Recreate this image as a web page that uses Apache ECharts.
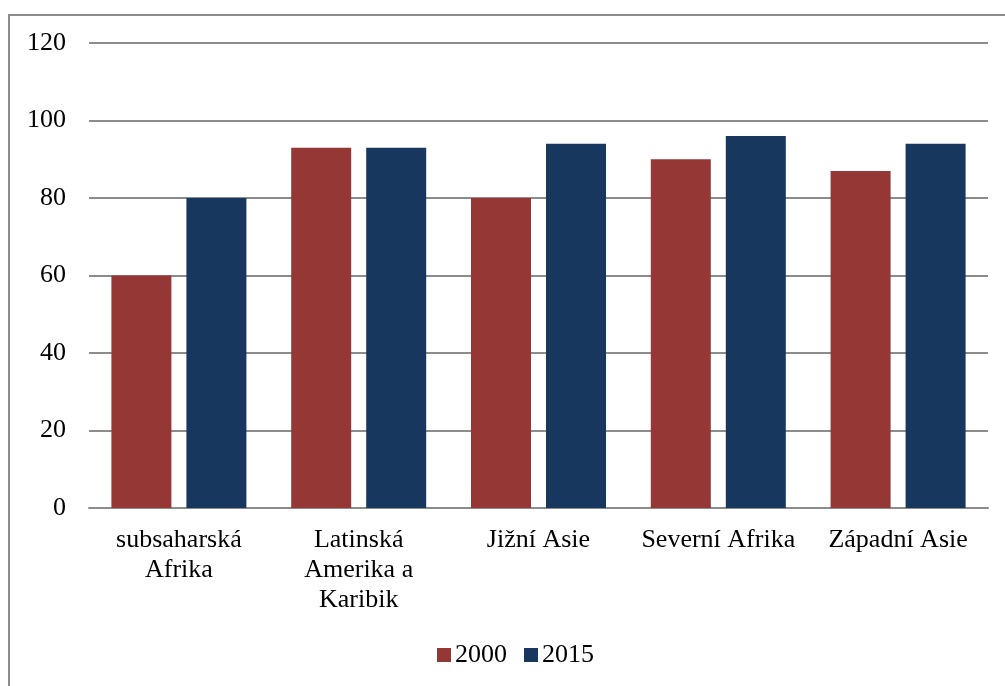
<!DOCTYPE html>
<html>
<head>
<meta charset="utf-8">
<script src="https://cdn.jsdelivr.net/npm/echarts@6/dist/echarts.min.js"></script>
<style>
  html, body { margin: 0; padding: 0; background: #fff; }
  #chart { width: 1005px; height: 686px; }
</style>
</head>
<body>
<div id="chart"></div>
<script>
// kategorie (regiony)
const categories = ['subsaharská\nAfrika', 'Latinská\nAmerika a\nKaribik', 'Jižní Asie', 'Severní Afrika', 'Západní Asie']
// hodnoty pro rok 2000 a 2015
const values2000 = [60, 93, 80, 90, 87]
const values2015 = [80, 93, 94, 96, 94]
const yTicks = { min: 0, max: 120, interval: 20 }

const font = '"Liberation Serif", "DejaVu Serif", serif'
const chart = echarts.init(document.getElementById('chart'))

chart.setOption({
  animation: false,
  textStyle: { fontFamily: font },
  graphic: [
    {
      type: 'rect',
      shape: { x: 9, y: 15, width: 1100, height: 800 },
      style: { fill: 'none', stroke: '#8c8c8c', lineWidth: 2 },
      silent: true
    }
  ],
  grid: { left: 89, right: 17, top: 43, bottom: 178, containLabel: false },
  legend: {
    left: 432,
    top: 637,
    itemWidth: 14,
    itemHeight: 14,
    itemGap: 17,
    icon: 'rect',
    textStyle: { fontFamily: font, fontSize: 26, color: '#000', padding: [0, 0, 0, -1] },
    data: ['2000', '2015']
  },
  xAxis: {
    type: 'category',
    data: categories,
    axisLine: { lineStyle: { color: '#8c8c8c', width: 2 } },
    axisTick: { show: false },
    axisLabel: {
      color: '#000',
      fontFamily: font,
      fontSize: 26,
      lineHeight: 30,
      margin: 17,
      interval: 0
    }
  },
  yAxis: {
    type: 'value',
    min: yTicks.min,
    max: yTicks.max,
    interval: yTicks.interval,
    axisLine: { show: false },
    axisTick: { show: false },
    splitLine: { lineStyle: { color: '#8c8c8c', width: 2 } },
    axisLabel: { color: '#000', fontFamily: font, fontSize: 26, margin: 23 }
  },
  series: [
    {
      name: '2000',
      type: 'bar',
      data: values2000,
      barWidth: 60,
      barGap: '25%',
      itemStyle: { color: '#953735' }
    },
    {
      name: '2015',
      type: 'bar',
      data: values2015,
      barWidth: 60,
      itemStyle: { color: '#17375e' }
    }
  ]
})
</script>
</body>
</html>
